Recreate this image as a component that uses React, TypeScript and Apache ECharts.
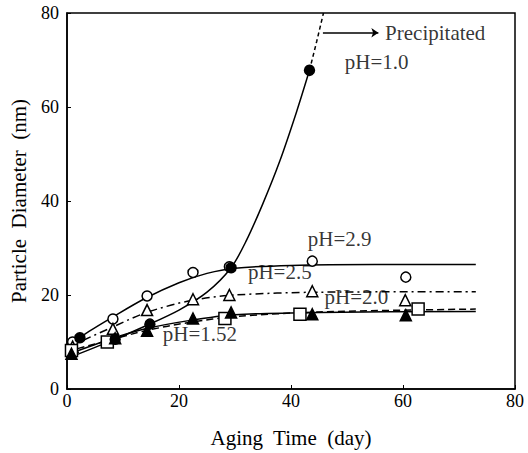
import React, { useEffect, useRef } from "react";
import * as echarts from "echarts";

// Measured points (day, nm)
const ph29Points = [[1, 10], [8.2, 14.9], [14.3, 19.8], [22.5, 24.8], [29, 26], [43.8, 27.2], [60.5, 23.8]];
const ph25Points = [[1, 9], [8.2, 12.8], [14.3, 16.8], [22.5, 19.1], [29, 20], [43.8, 20.8], [60.4, 18.9]];
const ph20Points = [[0.8, 8.2], [7.2, 10], [28.2, 15], [41.6, 15.9], [62.7, 17]];
const ph152Points = [[0.8, 7.5], [8.6, 10.8], [14.3, 12.4], [22.5, 15], [29.3, 16.3], [43.8, 15.9], [60.5, 15.7]];
const ph10Points = [[2.3, 10.9], [8.6, 10.6], [14.8, 13.8], [29.3, 25.8], [43.3, 67.8]];

// Fitted curves
const ph29Curve = [[0, 9], [4, 12.3], [8, 15.2], [14, 19.3], [20, 22.6], [25, 24.6], [30, 25.7], [40, 26.3], [55, 26.5], [73, 26.5]];
const ph25Curve = [[0, 8.8], [8, 13.1], [14, 16.2], [22, 18.8], [30, 20], [45, 20.6], [73, 20.7]];
const ph20Curve = [[0, 8], [7, 10.2], [14, 12.4], [22, 14.2], [30, 15.4], [45, 16.4], [73, 17]];
const ph152Curve = [[0, 7.3], [8, 10.7], [14, 12.8], [22, 14.6], [30, 15.8], [45, 16.3], [73, 16.5]];
const ph10Curve = [[0, 6.5], [8, 10.3], [14, 13.4], [20, 16.8], [25, 20.6], [29.3, 25.8], [32, 31.5], [35, 39.5], [38, 48.5], [41, 59], [43.3, 67.8]];
const ph10Extension = [[43.3, 67.8], [44.6, 74], [45.8, 80]];

// Annotations: [x, y, text]
const annotations: [number, number, string][] = [
  [56.8, 75.8, "Precipitated"],
  [49.6, 69.6, "pH=1.0"],
  [43, 31.9, "pH=2.9"],
  [32.3, 25, "pH=2.5"],
  [46, 19.6, "pH=2.0"],
  [17.1, 11.6, "pH=1.52"],
];
const arrowFrom = [45.7, 75.8];
const arrowTo = [55.6, 75.8];

const xTicks = [0, 20, 40, 60, 80];
const yTicks = [0, 20, 40, 60, 80];

const FONT = "'Liberation Serif', 'DejaVu Serif', serif";

export default function App() {
  const ref = useRef<HTMLDivElement>(null);
  useEffect(() => {
    if (!ref.current) return;
    const chart = echarts.init(ref.current, null, { renderer: "svg" });
    const lineStyle = (type: any) => ({ color: "#000", width: 1.5, type });
    const curve = (data: number[][], type: any) => ({
      type: "line",
      data,
      smooth: 0.3,
      showSymbol: false,
      symbol: "none",
      lineStyle: lineStyle(type),
      z: 2,
    });
    const pts = (data: number[][], symbol: string, size: number, filled: boolean) => ({
      type: "scatter",
      data,
      symbol,
      symbolSize: size,
      itemStyle: { color: filled ? "#000" : "#fff", borderColor: "#000", borderWidth: 1.5, opacity: 1 },
      z: 5,
    });
    chart.setOption({
      animation: false,
      textStyle: { fontFamily: FONT },
      grid: { left: 67, right: 13, top: 13, bottom: 63, show: true, borderColor: "#000", borderWidth: 1.5 },
      xAxis: {
        type: "value",
        min: xTicks[0],
        max: xTicks[xTicks.length - 1],
        interval: 20,
        name: "Aging  Time  (day)",
        nameLocation: "middle",
        nameGap: 38,
        nameTextStyle: { fontFamily: FONT, fontSize: 21, color: "#000" },
        axisLine: { lineStyle: { color: "#000", width: 1.5 } },
        axisTick: { inside: true, length: 4, lineStyle: { color: "#000" } },
        axisLabel: { fontFamily: FONT, fontSize: 18, color: "#000", margin: 3 },
        splitLine: { show: false },
      },
      yAxis: {
        type: "value",
        min: yTicks[0],
        max: yTicks[yTicks.length - 1],
        interval: 20,
        name: "Particle  Diameter  (nm)",
        nameLocation: "middle",
        nameGap: 38,
        nameTextStyle: { fontFamily: FONT, fontSize: 21, color: "#000" },
        axisLine: { lineStyle: { color: "#000", width: 1.5 } },
        axisTick: { inside: true, length: 4, lineStyle: { color: "#000" } },
        axisLabel: { fontFamily: FONT, fontSize: 18, color: "#000", margin: 8 },
        splitLine: { show: false },
      },
      series: [
        curve(ph29Curve, "solid"),
        curve(ph25Curve, [8, 4, 2, 4]),
        curve(ph20Curve, [7, 4]),
        curve(ph152Curve, "solid"),
        curve(ph10Curve, "solid"),
        { ...curve(ph10Extension, [4, 3]), smooth: false },
        pts(ph29Points, "circle", 10, false),
        pts(ph25Points, "triangle", 11, false),
        pts(ph20Points, "rect", 12, false),
        pts(ph152Points, "triangle", 11, true),
        pts(ph10Points, "circle", 10, true),
        {
          type: "scatter",
          data: annotations.map((a) => [a[0], a[1], a[2]]),
          symbolSize: 0,
          z: 6,
          label: {
            show: true,
            position: "right",
            distance: 0,
            formatter: (p: any) => p.value[2],
            fontFamily: FONT,
            fontSize: 21,
            color: "#000",
          },
          markLine: {
            silent: true,
            symbol: ["none", "arrow"],
            symbolSize: 7,
            label: { show: false },
            lineStyle: { color: "#000", width: 1.5, type: "solid" },
            data: [[{ coord: arrowFrom }, { coord: arrowTo }]],
          },
        },
      ],
    });
    return () => chart.dispose();
  }, []);
  return (
    <div
      ref={ref}
      style={{ position: "fixed", left: 0, top: 0, width: 528, height: 453, background: "#fff" }}
    />
  );
}
